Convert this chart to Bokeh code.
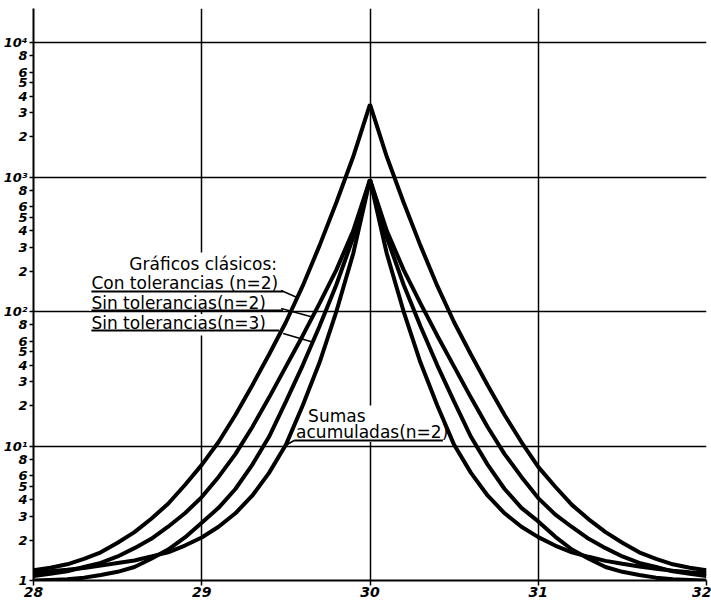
from bokeh.plotting import figure
from bokeh.models import FixedTicker, Range1d
from bokeh.core.properties import value
from bokeh.embed import file_html
from bokeh.resources import INLINE

# ---- data (ARL vs. process mean) ----
x_vals = [28.0, 28.1, 28.2, 28.3, 28.4, 28.5, 28.6, 28.7, 28.8, 28.9, 29.0,
          29.1, 29.2, 29.3, 29.4, 29.5, 29.6, 29.7, 29.8, 29.9,
          30.0,
          30.1, 30.2, 30.3, 30.4, 30.5, 30.6, 30.7, 30.8, 30.9,
          31.0, 31.1, 31.2, 31.3, 31.4, 31.5, 31.6, 31.7, 31.8, 31.9, 32.0]

con_tol_n2 = [1.19, 1.245, 1.32, 1.45, 1.62, 1.91, 2.29, 2.88, 3.72, 5.13, 7.24,
              10.7, 17.0, 28.2, 47.9, 83.2, 155, 309, 646, 1413,
              3470,
              1413, 646, 309, 155, 83.2, 47.9, 28.2, 17.0, 10.7,
              7.0, 5.0, 3.65, 2.85, 2.29, 1.91, 1.62, 1.45, 1.32, 1.245, 1.19]
sin_tol_n2 = [1.08, 1.12, 1.17, 1.26, 1.35, 1.51, 1.74, 2.04, 2.51, 3.16, 4.17,
              5.89, 8.71, 13.8, 22.9, 38.9, 66.1, 115, 204, 398,
              955,
              398, 204, 115, 66.1, 38.9, 22.9, 13.8, 8.71, 5.89,
              4.1, 3.1, 2.5, 2.04, 1.74, 1.51, 1.35, 1.26, 1.17, 1.12, 1.08]
sin_tol_n3 = [1.0, 1.01, 1.02, 1.05, 1.10, 1.16, 1.26, 1.45, 1.70, 2.09, 2.69,
              3.47, 4.79, 7.24, 11.7, 21.4, 39.8, 77.6, 158, 355,
              955,
              355, 158, 77.6, 39.8, 21.4, 11.7, 7.24, 4.79, 3.47,
              2.75, 2.12, 1.70, 1.45, 1.26, 1.16, 1.10, 1.05, 1.02, 1.01, 1.0]
sumas_n2 = [1.15, 1.17, 1.20, 1.24, 1.29, 1.35, 1.41, 1.51, 1.62, 1.82, 2.09,
            2.51, 3.16, 4.27, 6.31, 10.2, 20.0, 41.7, 100, 269,
            955,
            269, 100, 41.7, 20.0, 10.2, 6.31, 4.27, 3.16, 2.51,
            2.1, 1.82, 1.62, 1.50, 1.40, 1.33, 1.27, 1.22, 1.18, 1.15, 1.13]

x_ticks = [28, 29, 30, 31, 32]
y_ticks = [1, 2, 3, 4, 5, 6, 8,
           10, 20, 30, 40, 50, 60, 80,
           100, 200, 300, 400, 500, 600, 800,
           1000, 2000, 3000, 4000, 5000, 6000, 8000,
           10000]
y_tick_labels = ["1", "2", "3", "4", "5", "6", "8",
                 "10¹", "2", "3", "4", "5", "6", "8",
                 "10²", "2", "3", "4", "5", "6", "8",
                 "10³", "2", "3", "4", "5", "6", "8",
                 "10⁴"]
x_grid = [29, 30, 31, 32]
y_grid = [10, 100, 1000, 10000]

title_text = "Gráficos clásicos:"
label_lines = ["Con tolerancias (n=2)", "Sin tolerancias(n=2)", "Sin tolerancias(n=3)"]
cusum_lines = ["Sumas", "acumuladas(n=2)"]

# ---- figure ----
p = figure(width=711, height=603, x_range=Range1d(28, 32), y_range=Range1d(1, 17900),
           y_axis_type="log", output_backend="svg", toolbar_location=None,
           min_border_left=32, min_border_right=5, min_border_top=8, min_border_bottom=23)
p.outline_line_color = None
p.background_fill_color = "white"
p.border_fill_color = "white"

# grid
p.xgrid.ticker = FixedTicker(ticks=x_grid)
p.ygrid.ticker = FixedTicker(ticks=y_grid)
for g in (p.xgrid, p.ygrid):
    g.grid_line_color = "black"
    g.grid_line_width = 1.5
    g.grid_line_alpha = 1.0

# axes
p.xaxis.ticker = FixedTicker(ticks=x_ticks)
p.yaxis.ticker = FixedTicker(ticks=y_ticks)
p.yaxis.major_label_overrides = {float(t): l for t, l in zip(y_ticks, y_tick_labels)}
for ax in (p.xaxis, p.yaxis):
    ax.axis_line_color = "black"
    ax.axis_line_width = 2
    ax.major_tick_line_color = "black"
    ax.major_tick_line_width = 1.5
    ax.major_tick_in = 0
    ax.minor_tick_line_color = None
    ax.major_label_text_font = "DejaVu Sans"
    ax.major_label_text_font_style = "bold italic"
    ax.major_label_text_color = "black"
p.xaxis.major_tick_out = 5
p.xaxis.major_label_standoff = 1
p.xaxis.major_label_text_font_size = "14px"
p.yaxis.major_tick_out = 4
p.yaxis.major_label_standoff = 2
p.yaxis.major_label_text_font_size = "13px"


def dx(px):
    return 28 + (px - 32) / 168.5


def dy(py):
    return 10 ** ((580 - py) / 134.5)


# white backgrounds behind the label blocks
p.quad(left=[dx(88), dx(88), dx(291)], right=[dx(286), dx(286), dx(445)],
       top=[dy(252), dy(313.5), dy(405)], bottom=[dy(310.5), dy(335), dy(441.5)],
       fill_color="white", line_color=None)

# curves
for ys in (con_tol_n2, sin_tol_n2, sin_tol_n3, sumas_n2):
    p.line(x_vals, ys, line_color="black", line_width=4)

font = value("DejaVu Sans")
p.text(x=[dx(128)], y=[dy(263)], text=[title_text], text_font=font, text_font_size="17px",
       text_baseline="middle", text_align="left", text_color="black")
p.text(x=[dx(90), dx(90), dx(90)], y=[dy(282), dy(302), dy(322)], text=label_lines,
       text_font=font, text_font_size="17px", text_baseline="middle",
       text_align="left", text_color="black")
p.text(x=[dx(307), dx(295)], y=[dy(415), dy(431)], text=cusum_lines,
       text_font=font, text_font_size="17px", text_baseline="middle",
       text_align="left", text_color="black")

# underlines
p.segment(x0=[dx(90), dx(90), dx(90), dx(293)], y0=[dy(291), dy(310), dy(330), dy(440)],
          x1=[dx(282), dx(282), dx(278), dx(442)], y1=[dy(291), dy(310), dy(330), dy(440)],
          line_color="black", line_width=2)
# leader lines
p.segment(x0=[dx(280), dx(280), dx(282), dx(293)], y0=[dy(290), dy(308), dy(333), dy(440)],
          x1=[dx(296), dx(313), dx(313), dx(286)], y1=[dy(297), dy(317), dy(342), dy(444)],
          line_color="black", line_width=1.5)

open("out.html", "w").write(file_html(p, INLINE))
